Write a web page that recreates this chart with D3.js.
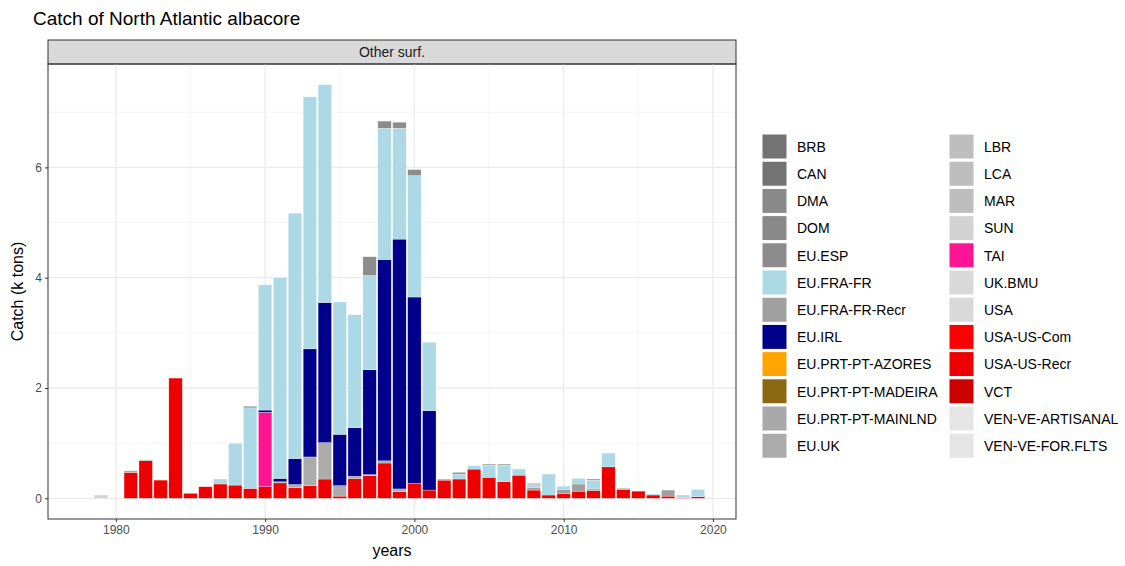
<!DOCTYPE html>
<meta charset="utf-8">
<style>
body { margin: 0; background: #fff; }
text { font-family: "Liberation Sans", Arial, sans-serif; }
.axis path { display: none; }
.axis text { fill: #4d4d4d; font-size: 12px; }
.axis line { stroke: #333; }
</style>
<svg width="1125" height="566"></svg>
<script src="https://d3js.org/d3.v7.min.js"></script>
<script>
// fleets in legend order (first one is stacked on top)
const fleets = ["BRB", "CAN", "DMA", "DOM", "EU.ESP", "EU.FRA-FR", "EU.FRA-FR-Recr", "EU.IRL",
  "EU.PRT-PT-AZORES", "EU.PRT-PT-MADEIRA", "EU.PRT-PT-MAINLND", "EU.UK",
  "LBR", "LCA", "MAR", "SUN", "TAI", "UK.BMU", "USA", "USA-US-Com", "USA-US-Recr", "VCT",
  "VEN-VE-ARTISANAL", "VEN-VE-FOR.FLTS"]
const fleetColours = ["#737373", "#737373", "#898989", "#898989", "#8c8c8c", "#add8e6", "#a0a0a0", "#00008b",
  "#ffa500", "#8b6914", "#a9a9a9", "#ababab",
  "#bebebe", "#bebebe", "#bebebe", "#d3d3d3", "#ff1493", "#d9d9d9", "#d9d9d9", "#ff0000", "#ee0000", "#cd0000",
  "#e5e5e5", "#e5e5e5"]

const years = d3.range(1978, 2020)
// catch in k tons, one value per year (1978 ... 2019)
const usRecr = [0, 0, 0, 0.47, 0.68, 0.33, 2.18, 0.09, 0.21, 0.26, 0.24, 0.18, 0.21, 0.28, 0.19, 0.23, 0.35, 0.04, 0.36, 0.41,
  0.64, 0.12, 0.27, 0.15, 0.33, 0.35, 0.53, 0.38, 0.30, 0.42, 0.15, 0.06, 0.09, 0.13, 0.14, 0.57, 0.16, 0.13, 0.06, 0.04, 0.01, 0.03]
const euUk = [0, 0, 0, 0.03, 0.02, 0, 0, 0, 0, 0, 0, 0, 0, 0.02, 0.06, 0.52, 0.66, 0.19, 0.04, 0.02,
  0.04, 0.05, 0, 0, 0.02, 0, 0, 0, 0, 0, 0, 0, 0, 0, 0, 0, 0, 0, 0, 0, 0, 0]
const tai = [0, 0, 0, 0, 0, 0, 0, 0, 0, 0, 0, 0, 1.35, 0, 0, 0, 0, 0, 0, 0,
  0, 0, 0, 0, 0, 0, 0, 0, 0, 0, 0, 0, 0, 0, 0, 0, 0, 0, 0, 0, 0, 0]
const euIrl = [0, 0, 0, 0, 0, 0, 0, 0, 0, 0, 0, 0, 0.04, 0.06, 0.47, 1.96, 2.54, 0.93, 0.88, 1.90,
  3.65, 4.53, 3.38, 1.44, 0, 0, 0, 0, 0, 0, 0, 0, 0, 0, 0, 0, 0, 0, 0, 0, 0, 0]
const euFraRecr = [0, 0, 0, 0, 0, 0, 0, 0, 0, 0, 0, 0, 0, 0, 0, 0, 0, 0, 0, 0,
  0, 0, 0, 0, 0, 0, 0, 0, 0, 0, 0.05, 0, 0.07, 0.13, 0.03, 0, 0, 0, 0, 0.11, 0, 0]
const euFra = [0, 0, 0, 0, 0, 0, 0, 0, 0, 0.09, 0.76, 1.46, 2.27, 3.64, 4.45, 4.57, 3.95, 2.40, 2.05, 1.71,
  2.38, 2.01, 2.20, 1.24, 0, 0.09, 0.06, 0.22, 0.30, 0.11, 0.05, 0.38, 0.06, 0.10, 0.16, 0.25, 0, 0, 0.02, 0, 0.05, 0.13]
const euEsp = [0, 0, 0, 0, 0, 0, 0, 0, 0, 0, 0, 0.03, 0, 0, 0, 0, 0, 0, 0, 0.34,
  0.13, 0.11, 0.11, 0, 0, 0.03, 0, 0.02, 0.02, 0, 0.02, 0, 0, 0, 0.02, 0, 0.02, 0, 0, 0, 0, 0]
const sun = [0, 0.06, 0, 0, 0, 0, 0, 0, 0, 0, 0, 0, 0, 0, 0, 0, 0, 0, 0, 0,
  0, 0, 0, 0, 0, 0, 0, 0, 0, 0, 0, 0, 0, 0, 0, 0, 0, 0, 0, 0, 0, 0]

const yTicks = [0, 2, 4, 6]
const xTicks = [1980, 1990, 2000, 2010, 2020]

const seriesByFleet = {
  "USA-US-Recr": usRecr, "EU.UK": euUk, "TAI": tai, "EU.IRL": euIrl,
  "EU.FRA-FR-Recr": euFraRecr, "EU.FRA-FR": euFra, "EU.ESP": euEsp, "SUN": sun
}
const table = years.map((yr, i) => {
  const row = {year: yr}
  fleets.forEach(f => { row[f] = seriesByFleet[f] ? seriesByFleet[f][i] : 0 })
  return row
})

const svg = d3.select("svg")
const panel = {left: 48, right: 736, top: 64, bottom: 519}

// ggplot-like expansion of 5%
const xMin = d3.min(years) - 0.45, xMax = d3.max(years) + 0.45
const xPad = (xMax - xMin) * 0.05
const x = d3.scaleLinear().domain([xMin - xPad, xMax + xPad]).range([panel.left, panel.right])

const stack = d3.stack().keys(fleets.slice().reverse())
const series = stack(table)
const yMaxVal = d3.max(series, s => d3.max(s, d => d[1]))
const y = d3.scaleLinear().domain([-yMaxVal * 0.05, yMaxVal * 1.05]).range([panel.bottom, panel.top])

const colour = d3.scaleOrdinal().domain(fleets).range(fleetColours)

// title
svg.append("text")
    .attr("x", 33).attr("y", 25)
    .attr("font-size", 19).attr("fill", "#000")
    .text("Catch of North Atlantic albacore")

// strip
svg.append("rect")
    .attr("x", panel.left).attr("y", 40)
    .attr("width", panel.right - panel.left).attr("height", panel.top - 40)
    .attr("fill", "#d9d9d9").attr("stroke", "#333").attr("stroke-width", 1)
svg.append("text")
    .attr("x", (panel.left + panel.right) / 2).attr("y", 57)
    .attr("text-anchor", "middle").attr("font-size", 14).attr("fill", "#1a1a1a")
    .text("Other surf.")

// gridlines
const grid = svg.append("g")
const xMinor = d3.range(1975, 2026, 10).filter(v => x(v) > panel.left && x(v) < panel.right)
const yMinor = [1, 3, 5, 7]
grid.selectAll(".xminor").data(xMinor).enter().append("line")
    .attr("x1", d => x(d)).attr("x2", d => x(d))
    .attr("y1", panel.top).attr("y2", panel.bottom)
    .attr("stroke", "#f2f2f2").attr("stroke-width", 0.8)
grid.selectAll(".yminor").data(yMinor).enter().append("line")
    .attr("x1", panel.left).attr("x2", panel.right)
    .attr("y1", d => y(d)).attr("y2", d => y(d))
    .attr("stroke", "#f2f2f2").attr("stroke-width", 0.8)
grid.selectAll(".xmajor").data(xTicks).enter().append("line")
    .attr("x1", d => x(d)).attr("x2", d => x(d))
    .attr("y1", panel.top).attr("y2", panel.bottom)
    .attr("stroke", "#ebebeb").attr("stroke-width", 1.3)
grid.selectAll(".ymajor").data(yTicks).enter().append("line")
    .attr("x1", panel.left).attr("x2", panel.right)
    .attr("y1", d => y(d)).attr("y2", d => y(d))
    .attr("stroke", "#ebebeb").attr("stroke-width", 1.3)

// bars
const bw = x(0.9) - x(0)
svg.append("g").selectAll("g")
  .data(series).enter().append("g")
    .attr("fill", d => colour(d.key))
  .selectAll("rect")
  .data(d => d.filter(p => p[1] - p[0] > 0))
  .enter().append("rect")
    .attr("x", d => x(d.data.year) - bw / 2)
    .attr("width", bw)
    .attr("y", d => y(d[1]))
    .attr("height", d => y(d[0]) - y(d[1]))
    .attr("stroke", "#fff").attr("stroke-width", 0.4).attr("stroke-opacity", 0.7)

// panel border
svg.append("rect")
    .attr("x", panel.left).attr("y", panel.top)
    .attr("width", panel.right - panel.left).attr("height", panel.bottom - panel.top)
    .attr("fill", "none").attr("stroke", "#333").attr("stroke-width", 1)

// axes
svg.append("g")
    .attr("class", "axis")
    .attr("transform", `translate(0,${panel.bottom})`)
    .call(d3.axisBottom(x).tickValues(xTicks).tickFormat(d3.format("d")).tickSize(3).tickPadding(3))
svg.append("g")
    .attr("class", "axis")
    .attr("transform", `translate(${panel.left},0)`)
    .call(d3.axisLeft(y).tickValues(yTicks).tickSize(3).tickPadding(3))

svg.append("text")
    .attr("x", (panel.left + panel.right) / 2).attr("y", 556)
    .attr("text-anchor", "middle").attr("font-size", 16).attr("fill", "#000")
    .text("years")
svg.append("text")
    .attr("transform", `translate(23,${(panel.top + panel.bottom) / 2}) rotate(-90)`)
    .attr("text-anchor", "middle").attr("font-size", 16).attr("fill", "#000")
    .text("Catch (k tons)")

// legend, two columns of 12
const legend = svg.append("g")
const item = legend.selectAll("g").data(fleets).enter().append("g")
    .attr("transform", (d, i) => {
      const col = Math.floor(i / 12), row = i % 12
      return `translate(${762 + col * 187},${134 + row * 27.2})`
    })
item.append("rect")
    .attr("width", 25).attr("height", 25)
    .attr("fill", d => colour(d))
    .attr("stroke", "#fff").attr("stroke-width", 1)
item.append("text")
    .attr("x", 35).attr("y", 13).attr("dy", "0.35em")
    .attr("font-size", 14).attr("fill", "#000")
    .text(d => d)
</script>
